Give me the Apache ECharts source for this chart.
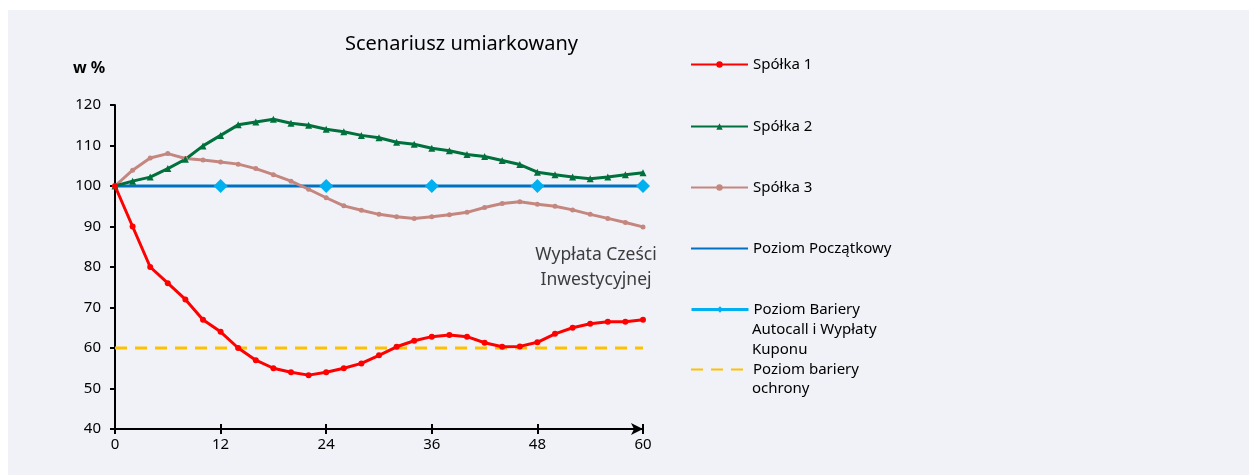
<!DOCTYPE html>
<html>
<head>
<meta charset="utf-8">
<title>Scenariusz umiarkowany</title>
<script src="https://cdn.jsdelivr.net/npm/echarts@6/dist/echarts.min.js"></script>
<style>
  html, body { margin: 0; padding: 0; background: #ffffff; }
  #chart { width: 1249px; height: 475px; }
</style>
</head>
<body>
<div id="chart"></div>
<script>
// months of observation (every 2 months)
const months = [0, 2, 4, 6, 8, 10, 12, 14, 16, 18, 20, 22, 24, 26, 28, 30,
  32, 34, 36, 38, 40, 42, 44, 46, 48, 50, 52, 54, 56, 58, 60];

const spolka1 = [100, 90, 80, 76, 72, 67, 64, 60, 57, 55, 54, 53.3, 54, 55, 56.2, 58.2,
  60.3, 61.8, 62.8, 63.2, 62.8, 61.3, 60.3, 60.4, 61.4, 63.5, 65, 66, 66.5, 66.5, 67];
const spolka2 = [100, 101.2, 102.2, 104.3, 106.6, 109.9, 112.5, 115.1, 115.8, 116.5, 115.5, 115, 114, 113.4, 112.5, 111.9,
  110.8, 110.3, 109.3, 108.7, 107.8, 107.3, 106.3, 105.3, 103.4, 102.8, 102.2, 101.8, 102.2, 102.8, 103.3];
const spolka3 = [100, 103.9, 106.9, 108, 106.8, 106.4, 105.9, 105.4, 104.3, 102.8, 101.2, 99.2, 97.1, 95.1, 94, 93,
  92.4, 92, 92.4, 92.9, 93.5, 94.7, 95.7, 96.1, 95.5, 95, 94.1, 93, 92, 91, 89.9];

const poziomStart = [[0, 100], [60, 100]];
const autocallMonths = [12, 24, 36, 48, 60];
const autocallLevel = [100, 100, 100, 100, 100];
const ochrona = [[0, 60], [60, 60]];

const xTicks = [0, 12, 24, 36, 48, 60];

const names = ['Spółka 1', 'Spółka 2', 'Spółka 3', 'Poziom Początkowy', 'Poziom Bariery', 'Poziom bariery'];

const FONT = 'Noto Sans';
const TXT = '#000';
const chart = echarts.init(document.getElementById('chart'));

const pair = (xs, ys) => xs.map((x, i) => [x, ys[i]]);

function legendAt(name, top, extra) {
  return Object.assign({
    left: 690,
    top: top,
    padding: 0,
    itemWidth: 57,
    itemHeight: 8,
    selectedMode: false,
    textStyle: { fontFamily: FONT, fontSize: 15, color: TXT },
    data: [name]
  }, extra || {});
}

const legendNote = (y, text) => ({
  type: 'text', x: 752, y: y,
  style: { text: text, fontFamily: FONT, fontSize: 15, fill: TXT, verticalAlign: 'middle' }
});

chart.setOption({
  backgroundColor: '#ffffff',
  animation: false,
  textStyle: { fontFamily: FONT },
  title: {
    text: 'Scenariusz umiarkowany',
    left: 340,
    top: 29,
    textStyle: { fontFamily: FONT, fontSize: 20, fontWeight: 'normal', color: TXT }
  },
  graphic: [
    { type: 'rect', z: -10, silent: true, shape: { x: 8, y: 10, width: 1241, height: 465 }, style: { fill: '#f1f2f7' } },
    { type: 'text', x: 73, y: 68, style: { text: 'w %', fontFamily: FONT, fontSize: 16, fontWeight: 'bold', fill: TXT, verticalAlign: 'middle' } },
    { type: 'text', x: 596, y: 255, style: { text: 'Wypłata Cześci', fontFamily: FONT, fontSize: 17.5, fill: '#3c3c3c', align: 'center', verticalAlign: 'middle' } },
    { type: 'text', x: 596, y: 280, style: { text: 'Inwestycyjnej', fontFamily: FONT, fontSize: 17.5, fill: '#3c3c3c', align: 'center', verticalAlign: 'middle' } },
    legendNote(330, 'Autocall i Wypłaty'),
    legendNote(350, 'Kuponu'),
    legendNote(389, 'ochrony')
  ],
  legend: [
    legendAt(names[0], 57),
    legendAt(names[1], 119),
    legendAt(names[2], 180),
    legendAt(names[3], 241, { data: [{ name: names[3], itemStyle: { opacity: 0 } }] }),
    legendAt(names[4], 302, { data: [{ name: names[4], lineStyle: { opacity: 1, color: '#00b0f0', width: 3 } }] }),
    legendAt(names[5], 362, { data: [{ name: names[5], itemStyle: { opacity: 0 } }] })
  ],
  grid: { left: 115, right: 606, top: 105, bottom: 46 },
  xAxis: [{
    type: 'value',
    min: 0,
    max: 60,
    interval: 12,
    splitLine: { show: false },
    axisLine: { lineStyle: { color: '#000', width: 2 }, symbol: ['none', 'arrow'], symbolSize: [9, 12], symbolOffset: [0, 0] },
    axisTick: { lineStyle: { color: '#000', width: 2 }, length: 5 },
    axisLabel: { color: TXT, fontSize: 15, margin: 8, fontFamily: FONT, customValues: xTicks }
  }, {
    type: 'value',
    min: 0,
    max: 60,
    interval: 12,
    position: 'bottom',
    splitLine: { show: false },
    axisLine: { show: false },
    axisTick: { inside: true, lineStyle: { color: '#000', width: 2 }, length: 5 },
    axisLabel: { show: false }
  }],
  yAxis: {
    type: 'value',
    min: 40,
    max: 120,
    interval: 10,
    splitLine: { show: false },
    axisLine: { show: true, lineStyle: { color: '#000', width: 2 } },
    axisTick: { show: true, lineStyle: { color: '#000', width: 2 }, length: 5 },
    axisLabel: { color: TXT, fontSize: 15, margin: 14, fontFamily: FONT }
  },
  series: [
    {
      name: names[3], type: 'line', data: poziomStart, symbol: 'none', z: 2,
      lineStyle: { color: '#0070c0', width: 3 }, itemStyle: { color: '#0070c0' }
    },
    {
      name: names[5], type: 'line', data: ochrona, symbol: 'none', z: 2,
      lineStyle: { color: '#ffc000', width: 3, type: [12, 8] }, itemStyle: { color: '#ffc000' }
    },
    {
      name: names[2], type: 'line', data: pair(months, spolka3), symbol: 'circle', symbolSize: 5, z: 3,
      lineStyle: { color: '#c4877f', width: 3 }, itemStyle: { color: '#c4877f' }
    },
    {
      name: names[1], type: 'line', data: pair(months, spolka2), symbol: 'triangle', symbolSize: 7, z: 3,
      lineStyle: { color: '#00703c', width: 3 }, itemStyle: { color: '#00703c' }
    },
    {
      name: names[0], type: 'line', data: pair(months, spolka1), symbol: 'circle', symbolSize: 6, z: 3,
      lineStyle: { color: '#ff0000', width: 3 }, itemStyle: { color: '#ff0000' }
    },
    {
      name: names[4], type: 'line', data: pair(autocallMonths, autocallLevel), symbol: 'diamond', symbolSize: 14, z: 4,
      lineStyle: { color: '#00b0f0', width: 3, opacity: 0 }, itemStyle: { color: '#00b0f0' }
    }
  ]
});
</script>
</body>
</html>
